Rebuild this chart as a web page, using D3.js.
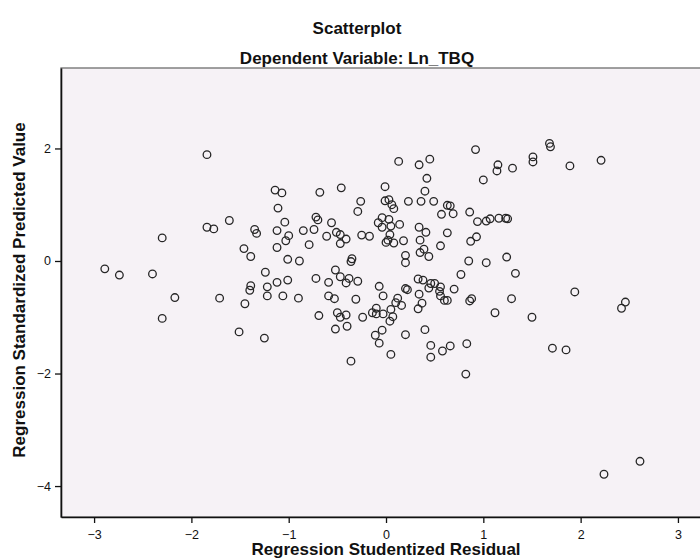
<!DOCTYPE html>
<html><head><meta charset="utf-8">
<script src="https://cdn.jsdelivr.net/npm/d3@7"></script>
<style>body{margin:0;background:#fff}svg{display:block}text{font-family:Arial,"Liberation Sans",sans-serif}</style>
</head><body><svg id="c" width="700" height="559"></svg>
<script>
const title = "Scatterplot";
const subtitle = "Dependent Variable: Ln_TBQ";
const xLabel = "Regression Studentized Residual";
const yLabel = "Regression Standardized Predicted Value";
const xTicks = [-3,-2,-1,0,1,2,3];
const yTicks = [-4,-2,0,2];
const residual = [
-2.89,-2.74,-2.40,-2.30,-2.17,-2.30,-1.84,-1.84,-1.77,-1.61,-1.71,-1.51,-1.46,-1.39,-1.45,-1.25,-1.35,-1.33,-1.24,-1.39,
-1.40,-1.22,-1.22,-1.14,-1.07,-1.11,-1.12,-1.04,-1.00,-1.03,-1.12,-1.01,-0.89,-1.12,-1.01,-1.06,-0.90,-0.85,-0.79,-0.74,
-0.72,-0.70,-0.68,-0.72,-0.69,-0.61,-0.59,-0.59,-0.53,-0.56,-0.51,-0.47,-0.41,-0.47,-0.46,-0.52,-0.47,-0.38,-0.41,-0.29,
-0.35,-0.36,-0.31,-0.29,-0.26,-0.25,-0.17,-0.50,-0.47,-0.41,-0.52,-0.40,-0.36,-0.24,-0.14,-0.10,-0.10,-0.03,0.05,0.07,
0.04,0.10,0.12,-0.07,-0.03,-0.04,-0.11,-0.07,0.05,-0.01,0.13,-0.01,0.03,0.06,0.08,-0.08,-0.04,-0.04,0.03,0.05,
0.14,0.04,0.00,0.02,0.08,0.34,0.45,0.92,0.42,1.00,0.40,0.23,0.36,0.49,0.63,0.66,0.69,0.57,0.86,0.94,
1.03,1.07,1.16,1.23,1.25,0.18,0.34,0.41,0.35,0.63,0.56,0.93,0.87,0.39,0.35,0.44,0.20,0.20,0.85,1.03,
1.24,0.77,1.33,0.33,0.38,0.46,0.50,0.44,0.56,0.55,0.70,0.56,0.60,0.63,0.20,0.22,0.34,0.16,0.37,0.33,
0.86,0.88,1.29,1.94,1.12,1.50,0.20,0.40,0.46,0.58,0.66,0.46,0.83,0.82,1.71,1.85,1.68,1.69,1.51,1.51,
1.15,1.14,1.30,1.89,2.21,2.46,2.42,2.61,2.24
];
const predicted = [
-0.14,-0.25,-0.23,0.41,-0.65,-1.02,1.89,0.60,0.57,0.72,-0.66,-1.26,0.22,0.08,-0.76,-1.37,0.56,0.49,-0.20,-0.44,
-0.52,-0.46,-0.62,1.26,1.21,0.94,0.54,0.69,0.45,0.36,0.24,0.03,0.00,-0.38,-0.34,-0.62,-0.66,0.54,0.29,0.56,
0.78,0.73,1.22,-0.31,-0.97,0.44,-0.38,-0.62,-0.67,0.68,0.51,0.47,0.39,0.31,1.30,-0.16,-0.28,-0.31,-0.39,-0.36,
0.04,-0.01,-0.68,0.88,1.06,0.46,0.44,-0.92,-1.00,-0.96,-1.21,-1.16,-1.78,-1.00,-0.92,-0.84,-0.94,-0.94,-0.86,-0.99,
-1.07,-0.74,-0.66,-0.45,-0.62,-1.23,-1.32,-1.46,-1.66,1.32,1.77,1.07,1.09,1.00,0.93,0.68,0.77,0.60,0.74,0.62,
0.65,0.47,0.33,0.37,0.32,1.71,1.81,1.98,1.47,1.44,1.24,1.06,1.06,1.06,0.99,0.98,0.84,0.83,0.87,0.70,
0.71,0.75,0.76,0.76,0.75,0.36,0.60,0.51,0.37,0.50,0.27,0.43,0.35,0.21,0.15,0.08,0.10,-0.03,0.00,-0.03,
0.07,-0.24,-0.22,-0.32,-0.34,-0.40,-0.40,-0.48,-0.46,-0.54,-0.50,-0.62,-0.70,-0.70,-0.49,-0.51,-0.59,-0.79,-0.75,-0.85,
-0.71,-0.67,-0.67,-0.55,-0.92,-1.00,-1.31,-1.22,-1.50,-1.60,-1.51,-1.71,-1.47,-2.01,-1.55,-1.58,2.09,2.03,1.85,1.76,
1.71,1.60,1.65,1.69,1.79,-0.73,-0.84,-3.56,-3.79
];

const svg = d3.select("#c");
const pL = 61, pR = 712, pT = 68, pB = 517;
const x = d3.scaleLinear().domain([-3.34, 3.35]).range([pL, pR]);
const y = d3.scaleLinear().domain([-4.55, 3.43]).range([pB, pT]);

svg.append("rect").attr("x", pL).attr("y", pT).attr("width", pR-pL).attr("height", pB-pT)
  .attr("fill", "#f6f2f6").attr("stroke", "#6e6e6e").attr("stroke-width", 1.3);

const data = residual.map((r,i) => ({r, p: predicted[i]}));
svg.append("g").selectAll("circle").data(data).join("circle")
  .attr("cx", d => x(d.r)).attr("cy", d => y(d.p)).attr("r", 3.8)
  .attr("fill", "none").attr("stroke", "#262626").attr("stroke-width", 1.3);

const xa = svg.append("g").attr("transform", `translate(0,${pB})`)
  .call(d3.axisBottom(x).tickValues(xTicks).tickFormat(d3.format("d")).tickSize(6).tickSizeOuter(0));
const ya = svg.append("g").attr("transform", `translate(${pL},0)`)
  .call(d3.axisLeft(y).tickValues(yTicks).tickFormat(d3.format("d")).tickSize(6).tickSizeOuter(0));
[xa, ya].forEach(a => {
  a.select(".domain").attr("stroke", "#111").attr("stroke-width", 1.6);
  a.selectAll(".tick line").attr("stroke", "#111").attr("stroke-width", 1.3);
  a.selectAll(".tick text").attr("font-size", 12.5).attr("fill", "#111")
   .attr("font-family", "Arial, 'Liberation Sans', sans-serif");
});
xa.selectAll(".tick text").attr("dy", "1.0em");
ya.selectAll(".tick text").attr("dx", "-1px");

svg.append("text").attr("x", 357).attr("y", 34).attr("text-anchor", "middle")
  .attr("font-size", 17).attr("font-weight", "bold").attr("fill", "#111").text(title);
svg.append("text").attr("x", 357).attr("y", 64).attr("text-anchor", "middle")
  .attr("font-size", 17).attr("font-weight", "bold").attr("fill", "#111").text(subtitle);
svg.append("text").attr("x", 386).attr("y", 555).attr("text-anchor", "middle")
  .attr("font-size", 17).attr("font-weight", "bold").attr("fill", "#111").text(xLabel);
svg.append("text").attr("transform", `translate(25,290) rotate(-90)`).attr("text-anchor", "middle")
  .attr("font-size", 17).attr("font-weight", "bold").attr("fill", "#111").text(yLabel);
</script></body></html>
